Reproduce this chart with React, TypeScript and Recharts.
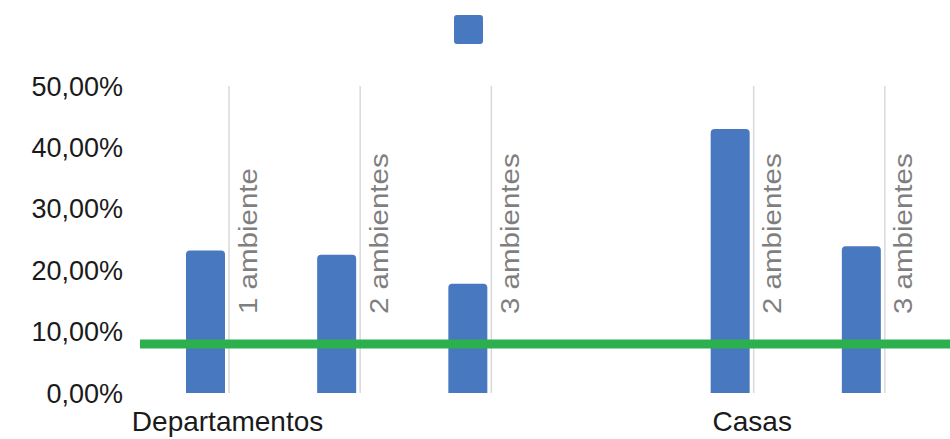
import React from 'react';
import { ComposedChart, Bar, XAxis, YAxis, ReferenceLine, Legend, LabelList, Rectangle } from 'recharts';

// chart data
const groups = ['Departamentos', 'Departamentos', 'Departamentos', '', 'Casas', 'Casas'];
const categories = ['1 ambiente', '2 ambientes', '3 ambientes', '', '2 ambientes', '3 ambientes'];
const shares: (number | null)[] = [23.2, 22.5, 17.8, null, 43.0, 23.9];
const targetShare = 8;
const yTicks = [0, 10, 20, 30, 40, 50];

const data = categories.map((c, i) => ({
  key: `${groups[i] || 'gap'}-${i}`,
  group: groups[i],
  category: c,
  share: shares[i],
}));

const BLUE = '#4878c0';
const GREEN = '#2cb04e';
const FONT = '"Liberation Sans", Arial, sans-serif';

const pct = (v: number) => `${v.toFixed(2).replace('.', ',')}%`;

// bar with the thin grey rule that sits just right of it
function BarWithRule(props: any) {
  const { x, y, width, height, background, payload } = props;
  if (payload?.share == null) return null;
  const top = background ? background.y : y;
  const lx = x + width + 4;
  return (
    <g>
      <line x1={lx} x2={lx} y1={top} y2={y + height} stroke="#d9d9d9" strokeWidth={1.5} />
      <Rectangle x={x} y={y} width={width} height={height} radius={[4, 4, 0, 0]} fill={BLUE} />
    </g>
  );
}

// rotated category label, slightly stretched along the text like the original
function SideLabel(props: any) {
  const vb = props.viewBox && props.viewBox.width != null ? props.viewBox : props;
  const { value } = props;
  if (value == null || value === '') return null;
  const tx = vb.x + vb.width / 2 + 51;
  const ty = vb.y + vb.height - 79;
  return (
    <text
      x={0}
      y={0}
      transform={`translate(${tx} ${ty}) rotate(-90) scale(1.18 1)`}
      fill="#7f7f7f"
      fontSize={25}
      fontFamily={FONT}
    >
      {value}
    </text>
  );
}

function GroupTick(props: any) {
  const { x, y, index } = props;
  const g = groups[index];
  if (!g || (index > 0 && groups[index - 1] === g)) return null;
  return (
    <text x={x + 22} y={y + 38} textAnchor="middle" fill="#1a1a1a" fontSize={28} fontFamily={FONT}>
      {g}
    </text>
  );
}

function LegendSquares(props: any) {
  return (
    <div style={{ display: 'flex', justifyContent: 'center', paddingRight: 14, height: 29 }}>
      {(props.payload || []).map((p: any, i: number) => (
        <div key={i} style={{ width: 29, height: 29, background: p.color, borderRadius: 3 }} />
      ))}
    </div>
  );
}

export default function App() {
  return (
    <div style={{ position: 'absolute', left: 0, top: 0, background: '#fff' }}>
      <ComposedChart width={950} height={439} data={data} margin={{ top: 57, right: 0, left: 0, bottom: 0 }}>
        <Legend verticalAlign="top" content={<LegendSquares />} wrapperStyle={{ top: 15 }} />
        <XAxis
          dataKey="key"
          height={46}
          axisLine={false}
          tickLine={false}
          tickSize={0}
          tickMargin={0}
          interval={0}
          padding={{ left: 0, right: 23 }}
          tick={<GroupTick />}
        />
        <YAxis
          width={140}
          domain={[0, 50]}
          ticks={yTicks}
          axisLine={false}
          tickLine={false}
          tickSize={0}
          tickMargin={17}
          tickFormatter={pct}
          tick={{ fill: '#1a1a1a', fontSize: 27, fontFamily: FONT }}
        />
        <Bar
          dataKey="share"
          name=" "
          fill={BLUE}
          barSize={39}
          background={{ fill: 'transparent' }}
          shape={<BarWithRule />}
          isAnimationActive={false}
        >
          <LabelList dataKey="category" content={<SideLabel />} />
        </Bar>
        <ReferenceLine y={targetShare} stroke={GREEN} strokeWidth={9} />
      </ComposedChart>
    </div>
  );
}
